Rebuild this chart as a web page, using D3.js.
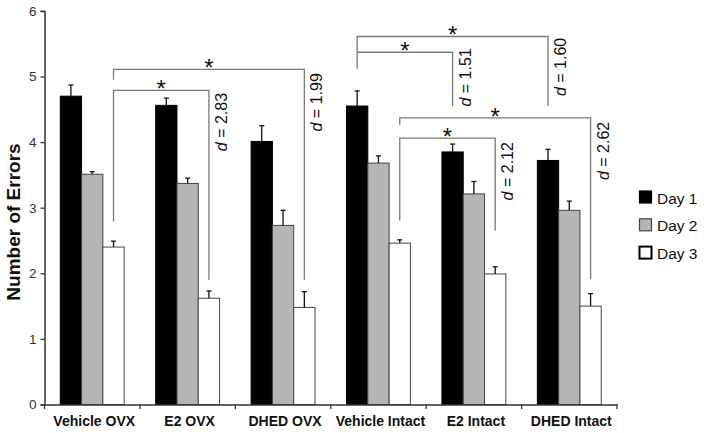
<!DOCTYPE html>
<html>
<head>
<meta charset="utf-8">
<script src="https://cdn.jsdelivr.net/npm/d3@7"></script>
<style>
  html, body { margin: 0; padding: 0; background: #fff; }
  svg { display: block; font-family: "Liberation Sans", Arial, sans-serif; }
</style>
</head>
<body>
<svg id="chart" width="704" height="433"></svg>
<script>
const categories = ["Vehicle OVX", "E2 OVX", "DHED OVX", "Vehicle Intact", "E2 Intact", "DHED Intact"];
const days = ["Day 1", "Day 2", "Day 3"];
const day1 = [4.70, 4.56, 4.01, 4.55, 3.85, 3.72];
const day2 = [3.51, 3.37, 2.73, 3.68, 3.21, 2.96];
const day3 = [2.40, 1.62, 1.48, 2.46, 1.99, 1.50];
const err1 = [0.17, 0.11, 0.24, 0.23, 0.12, 0.17];
const err2 = [0.04, 0.08, 0.23, 0.11, 0.19, 0.14];
const err3 = [0.09, 0.11, 0.24, 0.05, 0.11, 0.19];
const yTicks = [0, 1, 2, 3, 4, 5, 6];
const yTitle = "Number of Errors";
// significance brackets: [category index, day index] endpoints, heights in data units
const brackets = [
  { from: [0, 2], to: [1, 2], top: 4.79, leftEnd: 2.79, rightEnd: 1.90, d: "2.83", labelTop: 4.75 },
  { from: [0, 2], to: [2, 2], top: 5.11, leftEnd: 4.95, rightEnd: 1.90, d: "1.99", labelTop: 5.05 },
  { from: [3, 0], to: [4, 0], top: 5.37, leftEnd: 5.12, rightEnd: 4.55, d: "1.51", labelTop: 5.43 },
  { from: [3, 0], to: [5, 0], top: 5.61, leftEnd: 5.37, rightEnd: 4.55, d: "1.60", labelTop: 5.59 },
  { from: [3, 2], to: [5, 2], top: 4.37, leftEnd: 4.26, rightEnd: 1.91, d: "2.62", labelTop: 4.31 },
  { from: [3, 2], to: [4, 2], top: 4.06, leftEnd: 2.80, rightEnd: 2.65, d: "2.12", labelTop: 4.00 }
];

const values = [day1, day2, day3];
const errors = [err1, err2, err3];
const fills = ["#000000", "#b5b5b5", "#ffffff"];
const strokes = ["#000000", "#444444", "#444444"];

const svg = d3.select("#chart");
const x0 = d3.scaleBand().domain(categories).range([44.5, 617]).paddingInner(0).paddingOuter(0);
const x1 = d3.scaleBand().domain(days).range([0, x0.bandwidth()]).paddingInner(0).paddingOuter(0.74);
const y = d3.scaleLinear().domain([0, 6]).range([404.5, 10.9]);

const cx = (ci, di) => x0(categories[ci]) + x1(days[di]) + x1.bandwidth() / 2;

// bars
const barData = [];
categories.forEach((c, ci) => days.forEach((d, di) => barData.push({ c, ci, d, di, v: values[di][ci], e: errors[di][ci] })));

const gBars = svg.append("g");
gBars.selectAll("rect").data(barData).join("rect")
  .attr("x", d => x0(d.c) + x1(d.d))
  .attr("y", d => y(d.v))
  .attr("width", x1.bandwidth())
  .attr("height", d => y(0) - y(d.v))
  .attr("fill", d => fills[d.di])
  .attr("stroke", d => strokes[d.di])
  .attr("stroke-width", 1);

// error bars (upward only)
const gErr = svg.append("g").attr("stroke", "#111").attr("stroke-width", 1.3);
gErr.selectAll("line.v").data(barData).join("line").attr("class", "v")
  .attr("x1", d => cx(d.ci, d.di)).attr("x2", d => cx(d.ci, d.di))
  .attr("y1", d => y(d.v)).attr("y2", d => y(d.v + d.e));
gErr.selectAll("line.c").data(barData).join("line").attr("class", "c")
  .attr("x1", d => cx(d.ci, d.di) - 2.5).attr("x2", d => cx(d.ci, d.di) + 2.5)
  .attr("y1", d => y(d.v + d.e)).attr("y2", d => y(d.v + d.e));

// axes
const yAxis = d3.axisLeft(y).tickValues(yTicks).tickSize(4).tickPadding(4).tickFormat(d3.format("d"));
const gy = svg.append("g").attr("transform", "translate(44.5,0)").call(yAxis);
gy.select(".domain").attr("stroke", "#333").attr("stroke-width", 1.5);
gy.selectAll(".tick line").attr("stroke", "#333").attr("stroke-width", 1.3);
gy.selectAll(".tick text").attr("font-size", 13.5).attr("fill", "#333").attr("font-family", "Liberation Sans, Arial, sans-serif");

const xAxis = d3.axisBottom(x0).tickSize(0).tickPadding(12);
const gx = svg.append("g").attr("transform", "translate(0,404.5)").call(xAxis);
gx.select(".domain").attr("stroke", "#333").attr("stroke-width", 1.5);
gx.selectAll(".tick text").attr("font-size", 14).attr("font-weight", "bold").attr("fill", "#111")
  .attr("dx", 2).attr("font-family", "Liberation Sans, Arial, sans-serif");
// category boundary ticks
gx.selectAll("line.sep").data(d3.range(categories.length + 1)).join("line").attr("class", "sep")
  .attr("x1", i => 44.5 + i * x0.bandwidth()).attr("x2", i => 44.5 + i * x0.bandwidth())
  .attr("y1", 0).attr("y2", 4.5).attr("stroke", "#333").attr("stroke-width", 1.3);

// y title
svg.append("text")
  .attr("transform", "translate(20,222) rotate(-90)")
  .attr("text-anchor", "middle")
  .attr("font-size", 19).attr("font-weight", "bold").attr("fill", "#111")
  .text(yTitle);

// brackets
const gBr = svg.append("g");
brackets.forEach(b => {
  const xl = cx(b.from[0], b.from[1]);
  const xr = cx(b.to[0], b.to[1]);
  const path = d3.path();
  path.moveTo(xl, y(b.leftEnd));
  path.lineTo(xl, y(b.top));
  path.lineTo(xr, y(b.top));
  path.lineTo(xr, y(b.rightEnd));
  gBr.append("path").attr("d", path.toString())
    .attr("fill", "none").attr("stroke", "#7a7a7a").attr("stroke-width", 1.3);
  gBr.append("text")
    .attr("x", (xl + xr) / 2).attr("y", y(b.top) + 7)
    .attr("text-anchor", "middle").attr("font-size", 24).attr("fill", "#111")
    .text("*");
  const t = gBr.append("text")
    .attr("transform", `translate(${xr + 18},${y(b.labelTop)}) rotate(-90)`)
    .attr("text-anchor", "end").attr("font-size", 16).attr("fill", "#111");
  t.append("tspan").attr("font-style", "italic").text("d");
  t.append("tspan").text(" = " + b.d);
});

// legend
const gLeg = svg.append("g");
days.forEach((d, i) => {
  const yy = 191 + i * 27.8;
  gLeg.append("rect").attr("x", 639.5).attr("y", yy).attr("width", 12).attr("height", 12)
    .attr("fill", fills[i]).attr("stroke", i === 1 ? "#444" : "#000").attr("stroke-width", i === 2 ? 2 : 1.2);
  gLeg.append("text").attr("x", 657).attr("y", yy + 12.5).attr("font-size", 15.5).attr("fill", "#111").text(d);
});
</script>
</body>
</html>
